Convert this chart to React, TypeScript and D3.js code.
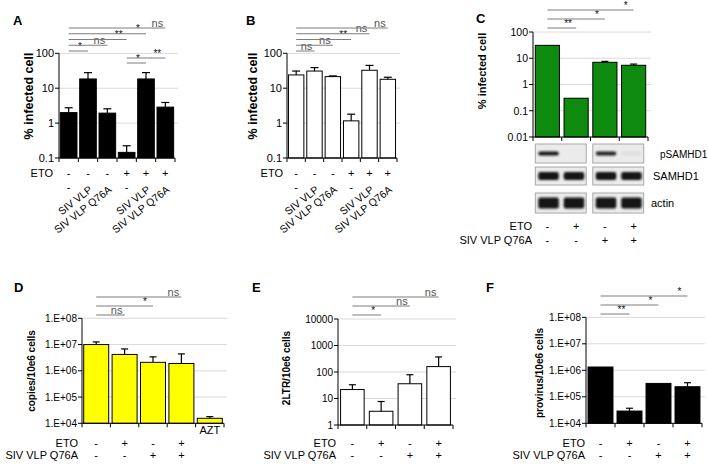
import React from 'react';
import * as d3 from 'd3';

const FONT = '"Liberation Sans", Arial, Helvetica, sans-serif';

// A and B: % infected cells, six conditions
const abEto = ['-', '-', '-', '+', '+', '+'];
const abVlp = ['-', 'SIV VLP', 'SIV VLP Q76A', '-', 'SIV VLP', 'SIV VLP Q76A'];
const abTicks = [0.1, 1, 10, 100];
const aValues = [2.0, 18.4, 1.93, 0.145, 18.4, 2.87];
const aErrTop = [2.75, 27.9, 2.57, 0.224, 28, 3.9];
const aSigLeft = [[0, 1, '*'], [0, 2, 'ns'], [0, 3, '**'], [0, 4, '*'], [0, 5, 'ns']];
const aSigRight = [[3, 4, '*'], [3, 5, '**']];
const bValues = [24, 31, 21.5, 1.16, 32.7, 18];
const bErrTop = [31, 39, 22.5, 1.8, 45, 20.6];
const bSig = [[0, 1, 'ns'], [0, 2, 'ns'], [0, 3, '**'], [0, 4, 'ns'], [0, 5, 'ns']];

// C: SIV VLP Q76A + etoposide, with the western blot under it
const cEto = ['-', '+', '-', '+'];
const cQ76A = ['-', '-', '+', '+'];
const cTicks = [0.01, 0.1, 1, 10, 100];
const cValues = [31, 0.3, 7.0, 5.4];
const cErrTop = [null, null, 7.6, 6.0];
const cSig = [[0, 1, '**'], [0, 2, '*'], [0, 3, '*']];
const blotRows = ['pSAMHD1', 'SAMHD1', 'actin'];
const blotSignal = [[1, 0, 0.95, 0.05], [1, 1, 1, 1], [1, 1, 1, 1]];

// D, E, F: viral DNA
const defEto = ['-', '+', '-', '+'];
const defQ76A = ['-', '-', '+', '+'];
const dTicks = [1e4, 1e5, 1e6, 1e7, 1e8];
const dValues = [1.0e7, 4.2e6, 2.1e6, 1.9e6, 1.55e4];
const dErrTop = [1.26e7, 6.8e6, 3.4e6, 4.4e6, 1.8e4];
const dSig = [[0, 1, 'ns'], [0, 2, '*'], [0, 3, 'ns']];
const eTicks = [1, 10, 100, 1000, 10000];
const eValues = [21.8, 3.3, 36, 160];
const eErrTop = [33, 7.7, 79, 370];
const eSig = [[0, 1, '*'], [0, 2, 'ns'], [0, 3, 'ns']];
const fValues = [1.33e6, 2.9e4, 3.2e5, 2.4e5];
const fErrTop = [null, 3.7e4, null, 3.4e5];
const fSig = [[0, 1, '**'], [0, 2, '*'], [0, 3, '*']];

const plainFmt = (d) => String(d);
const expFmt = (d) => `1.E+${String(Math.round(Math.log10(d))).padStart(2, '0')}`;

function makeX(xr, n, pad) {
  return d3.scaleBand().domain(d3.range(n)).range(xr).paddingInner(pad).paddingOuter(pad / 2);
}

function BarPanel({ xr, yr, domain, ticks, fmt, values, errTop, fill, sigs, pad = 0.14, cap = 7, tickFont = 11, rows, nameX, title, children }) {
  const x = makeX(xr, values.length, pad);
  const y = d3.scaleLog().domain(domain).range(yr);
  const bw = x.bandwidth();
  const cx = (i) => x(i) + bw / 2;
  const step = (xr[1] - xr[0]) / values.length;
  return (
    <g fontFamily={FONT}>
      {/* gridlines */}
      {ticks.slice(1).map((t) => (
        <line key={t} x1={xr[0]} x2={xr[1] + 3} y1={y(t)} y2={y(t)} stroke="#dadada" />
      ))}
      {/* bars */}
      {values.map((v, i) => (
        <rect key={i} x={x(i)} y={y(v)} width={bw} height={yr[0] - y(v)} fill={fill} stroke="#000" strokeWidth={1} />
      ))}
      {/* error bars (upper only) */}
      {errTop.map((e, i) =>
        e == null ? null : (
          <g key={i} stroke="#000" strokeWidth={1.2}>
            <line x1={cx(i)} x2={cx(i)} y1={y(values[i])} y2={y(e)} />
            <line x1={cx(i) - cap / 2} x2={cx(i) + cap / 2} y1={y(e)} y2={y(e)} />
          </g>
        )
      )}
      {/* y axis */}
      <line x1={xr[0]} x2={xr[0]} y1={yr[0]} y2={yr[1]} stroke="#000" />
      {ticks.map((t) => (
        <g key={t}>
          <line x1={xr[0] - 4} x2={xr[0]} y1={y(t)} y2={y(t)} stroke="#000" />
          <text x={xr[0] - 5} y={y(t) + tickFont * 0.36} textAnchor="end" fontSize={tickFont}>{fmt(t)}</text>
        </g>
      ))}
      {/* x axis */}
      <line x1={xr[0]} x2={xr[1]} y1={yr[0]} y2={yr[0]} stroke="#000" />
      {d3.range(values.length + 1).map((i) => (
        <line key={i} x1={xr[0] + i * step} x2={xr[0] + i * step} y1={yr[0]} y2={yr[0] + 4} stroke="#000" />
      ))}
      {/* significance brackets */}
      {sigs.map((g, gi) =>
        g.items.map(([a, b, lab], k) => {
          const ly = g.y0 - k * g.gap;
          return (
            <g key={`${gi}-${k}`}>
              <line x1={cx(a)} x2={cx(b)} y1={ly} y2={ly} stroke="#7d7d7d" strokeWidth={1} />
              <text x={cx(b) - 8} y={ly - 1.5} textAnchor="middle" fontSize={lab === 'ns' ? 11 : 10} fill={lab === 'ns' ? '#555' : '#111'}>{lab}</text>
            </g>
          );
        })
      )}
      {/* y title */}
      <text transform={`translate(${title.x},${title.y}) rotate(-90)`} textAnchor="middle" fontWeight="bold" fontSize={title.size}>{title.text}</text>
      {/* condition rows */}
      {rows.map((r, ri) => (
        <g key={ri} fontSize={11}>
          <text x={nameX} y={r.y} textAnchor="end">{r.name}</text>
          {r.vals.map((v, i) =>
            v.length > 1 ? (
              <text key={i} transform={`translate(${cx(i) + 5},${r.y}) rotate(-38)`} textAnchor="end" fontSize={10.5}>{v}</text>
            ) : (
              <text key={i} x={cx(i)} y={r.y} textAnchor="middle">{v}</text>
            )
          )}
        </g>
      ))}
      {children ? children(x) : null}
    </g>
  );
}

function Blot({ x, rowY, labelX }) {
  const bw = x.bandwidth();
  const boxes = [[0, 1], [2, 3]];
  const boxH = [19, 18, 20];
  const bandH = [4, 8, 11];
  return (
    <g>
      <defs>
        <filter id="soft" x="-20%" y="-50%" width="140%" height="200%">
          <feGaussianBlur stdDeviation="0.9" />
        </filter>
      </defs>
      {blotRows.map((name, r) => (
        <g key={name}>
          {boxes.map(([a, b]) => {
            const x0 = x(a);
            const x1 = x(b) + bw - 2;
            const lw = (x1 - x0) / 2;
            return (
              <g key={a}>
                <rect x={x0} y={rowY[r]} width={x1 - x0} height={boxH[r]} fill="#ebebeb" stroke="#a8a8a8" />
                {[a, b].map((lane, j) => (
                  <rect key={lane} x={x0 + j * lw + 3} y={rowY[r] + boxH[r] / 2 - bandH[r] / 2} width={lw - 5}
                    height={bandH[r]} rx={2} fill="#151515" opacity={blotSignal[r][lane]} filter="url(#soft)" />
                ))}
              </g>
            );
          })}
          <text x={labelX[r]} y={rowY[r] + boxH[r] / 2 + 4} fontSize={r === 0 ? 10 : 11} fontFamily={FONT}>{name}</text>
        </g>
      ))}
    </g>
  );
}

function Letter({ x, y, t }) {
  return <text x={x} y={y} fontFamily={FONT} fontWeight="bold" fontSize={13}>{t}</text>;
}

export default function App() {
  return (
    <div>
      <style>{'body{margin:0;background:#fff}'}</style>
      <svg width={708} height={464} style={{ display: 'block' }}>
        <rect width={708} height={464} fill="#fff" />
        <Letter x={13} y={25} t="A" />
        <BarPanel xr={[59, 175]} yr={[158, 53.3]} domain={[0.1, 100]} ticks={abTicks} fmt={plainFmt}
          values={aValues} errTop={aErrTop} fill="#000" cap={8} pad={0.14}
          sigs={[{ items: aSigLeft, y0: 51, gap: 5.75 }, { items: aSigRight, y0: 63, gap: 5 }]}
          title={{ text: '% infected cell', x: 33, y: 96, size: 12.5 }}
          nameX={53} rows={[{ name: 'ETO', vals: abEto, y: 177 }, { name: '', vals: abVlp, y: 191 }]} />

        <Letter x={246} y={25} t="B" />
        <BarPanel xr={[287, 397]} yr={[158, 53.3]} domain={[0.1, 100]} ticks={abTicks} fmt={plainFmt}
          values={bValues} errTop={bErrTop} fill="#fff" cap={8} pad={0.16}
          sigs={[{ items: bSig, y0: 51, gap: 5.75 }]}
          title={{ text: '% infected cell', x: 257, y: 96, size: 12.5 }}
          nameX={283} rows={[{ name: 'ETO', vals: abEto, y: 177 }, { name: '', vals: abVlp, y: 191 }]} />

        <Letter x={476} y={23} t="C" />
        <BarPanel xr={[533, 648]} yr={[137, 32]} domain={[0.01, 100]} ticks={cTicks} fmt={plainFmt}
          values={cValues} errTop={cErrTop} fill="#0e8a0e" cap={7} pad={0.16} tickFont={10.5}
          sigs={[{ items: cSig, y0: 28, gap: 9 }]}
          title={{ text: '% infected cell', x: 486, y: 71, size: 11 }}
          nameX={532} rows={[{ name: 'ETO', vals: cEto, y: 230 }, { name: 'SIV VLP Q76A', vals: cQ76A, y: 244 }]}>
          {(x) => <Blot x={x} rowY={[144, 167, 193]} labelX={[660, 653, 651]} />}
        </BarPanel>

        <Letter x={14} y={292} t="D" />
        <BarPanel xr={[82, 224]} yr={[423.3, 318.3]} domain={[1e4, 1e8]} ticks={dTicks} fmt={expFmt}
          values={dValues} errTop={dErrTop} fill="#ffff00" cap={7} pad={0.12} tickFont={10}
          sigs={[{ items: dSig, y0: 315, gap: 9 }]}
          title={{ text: 'copies/10e6 cells', x: 35, y: 371, size: 10 }}
          nameX={78} rows={[{ name: 'ETO', vals: defEto, y: 447 }, { name: 'SIV VLP Q76A', vals: defQ76A, y: 459 }]}>
          {(x) => (
            <text x={x(4) + x.bandwidth() / 2} y={434} textAnchor="middle" fontSize={11} fontFamily={FONT}>AZT</text>
          )}
        </BarPanel>

        <Letter x={252} y={292} t="E" />
        <BarPanel xr={[338, 453]} yr={[425, 319]} domain={[1, 10000]} ticks={eTicks} fmt={plainFmt}
          values={eValues} errTop={eErrTop} fill="#fff" cap={7} pad={0.18} tickFont={10}
          sigs={[{ items: eSig, y0: 315, gap: 9 }]}
          title={{ text: '2LTR/10e6 cells', x: 290, y: 368, size: 10 }}
          nameX={336} rows={[{ name: 'ETO', vals: defEto, y: 447 }, { name: 'SIV VLP Q76A', vals: defQ76A, y: 459 }]} />

        <Letter x={486} y={292} t="F" />
        <BarPanel xr={[586, 702]} yr={[423.3, 317.3]} domain={[1e4, 1e8]} ticks={dTicks} fmt={expFmt}
          values={fValues} errTop={fErrTop} fill="#000" cap={7} pad={0.14} tickFont={10}
          sigs={[{ items: fSig, y0: 314, gap: 9 }]}
          title={{ text: 'provirus/10e6 cells', x: 543, y: 373, size: 10 }}
          nameX={585} rows={[{ name: 'ETO', vals: defEto, y: 447 }, { name: 'SIV VLP Q76A', vals: defQ76A, y: 459 }]} />
      </svg>
    </div>
  );
}
